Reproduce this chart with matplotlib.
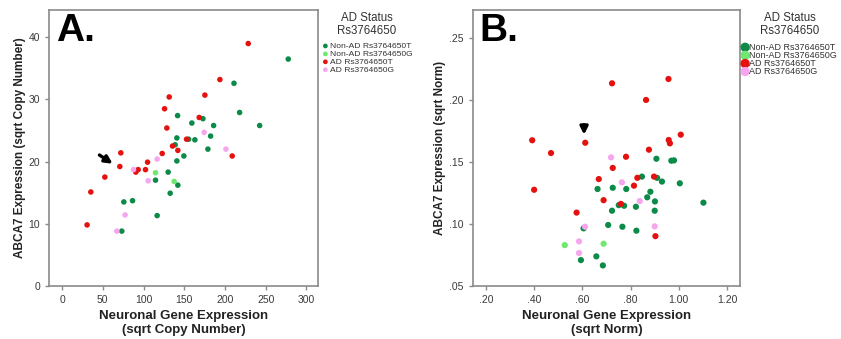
import matplotlib.pyplot as plt
from matplotlib.ticker import FuncFormatter

# groups / colours
groups = ['Non-AD Rs3764650T', 'Non-AD Rs3764650G', 'AD Rs3764650T', 'AD Rs3764650G']
colors = ['#0b8a48', '#6ee86e', '#e4110f', '#f6a6ef']

# panel A : sqrt copy number
a_x_nonad_t = [277.6, 211, 217.9, 141.8, 159.3, 172.9, 186, 242.5, 140.9, 155.3, 163, 182.3,
               138.8, 179, 149.5, 140.9, 130.2, 114.7, 142.1, 132.7, 86.5, 75.8, 116.7, 73.3]
a_y_nonad_t = [36.5, 32.6, 27.9, 27.4, 26.2, 26.9, 25.8, 25.8, 23.8, 23.6, 23.5, 24.1,
               22.7, 22.0, 20.9, 20.1, 18.3, 17.0, 16.2, 14.9, 13.7, 13.5, 11.3, 8.8]
a_x_nonad_g = [114.7, 137.6]
a_y_nonad_g = [18.2, 16.8]
a_x_ad_t = [228.5, 193.7, 131.5, 175.3, 125.8, 168.3, 128.6, 152.8, 135.6, 142.1, 122.9,
            208.8, 72.1, 70.9, 104.9, 102.4, 93.4, 90.5, 52.5, 35.3, 30.7]
a_y_ad_t = [39.0, 33.2, 30.4, 30.7, 28.5, 27.1, 25.4, 23.6, 22.5, 21.8, 21.3,
            20.9, 21.4, 19.2, 19.9, 18.7, 18.7, 18.3, 17.5, 15.1, 9.8]
a_x_ad_g = [174.4, 201.1, 116.7, 87.7, 105.7, 77.4, 67.2]
a_y_ad_g = [24.7, 22.0, 20.4, 18.7, 16.9, 11.4, 8.8]

# panel B : sqrt norm
b_x_nonad_t = [0.907, 0.969, 0.980, 0.847, 0.910, 0.930, 1.004, 0.663, 0.726, 0.782, 0.882,
               0.869, 0.901, 1.102, 0.751, 0.773, 0.822, 0.723, 0.900, 0.707, 0.766, 0.824,
               0.605, 0.658, 0.594, 0.685]
b_y_nonad_t = [0.1524, 0.1508, 0.1511, 0.138, 0.137, 0.134, 0.1326, 0.128, 0.129, 0.128, 0.1258,
               0.1213, 0.118, 0.117, 0.115, 0.1145, 0.1137, 0.1105, 0.1105, 0.099, 0.0976, 0.0944,
               0.0963, 0.0737, 0.0707, 0.0664]
b_x_nonad_g = [0.527, 0.688]
b_y_nonad_g = [0.0828, 0.0839]
b_x_ad_t = [0.392, 0.470, 0.400, 0.612, 0.723, 0.957, 0.864, 0.958, 0.963, 1.008, 0.876,
            0.781, 0.726, 0.668, 0.828, 0.897, 0.814, 0.688, 0.760, 0.576, 0.903]
b_y_ad_t = [0.1673, 0.157, 0.1274, 0.1653, 0.2132, 0.2167, 0.1998, 0.1675, 0.1648, 0.1718, 0.1597,
            0.154, 0.145, 0.136, 0.137, 0.138, 0.1307, 0.119, 0.116, 0.109, 0.090]
b_x_ad_g = [0.719, 0.764, 0.838, 0.611, 0.900, 0.586, 0.586]
b_y_ad_g = [0.1535, 0.1334, 0.1183, 0.0976, 0.0979, 0.0858, 0.0764]

a_xticks = [0, 50, 100, 150, 200, 250, 300]
a_yticks = [0, 10, 20, 30, 40]
b_xticks = [0.2, 0.4, 0.6, 0.8, 1.0, 1.2]
b_yticks = [0.05, 0.10, 0.15, 0.20, 0.25]

plt.rcParams['font.family'] = ['Liberation Sans', 'DejaVu Sans']

fig = plt.figure(figsize=(8.41, 3.39), dpi=100)
axA = fig.add_axes([0.0583, 0.157, 0.3197, 0.8135])
axB = fig.add_axes([0.562, 0.157, 0.318, 0.8135])


def dec(v, pos):
    s = '%.2f' % v
    return s[1:] if s.startswith('0') else s


def style(ax):
    for sp in ax.spines.values():
        sp.set_color('#8a8a8a')
        sp.set_linewidth(1.2)
    ax.tick_params(colors='#8a8a8a', labelcolor='#3a3a3a', labelsize=7.5, length=3, width=1)


dataA = [(a_x_nonad_t, a_y_nonad_t), (a_x_nonad_g, a_y_nonad_g), (a_x_ad_t, a_y_ad_t), (a_x_ad_g, a_y_ad_g)]
dataB = [(b_x_nonad_t, b_y_nonad_t), (b_x_nonad_g, b_y_nonad_g), (b_x_ad_t, b_y_ad_t), (b_x_ad_g, b_y_ad_g)]

for (x, y), c, g in zip(dataA, colors, groups):
    axA.scatter(x, y, s=16, color=c, edgecolors='none', label=g)
for (x, y), c, g in zip(dataB, colors, groups):
    axB.scatter(x, y, s=20, color=c, edgecolors='none', label=g)

axA.set_xlim(-16, 314)
axA.set_ylim(0, 44.4)
axA.set_xticks(a_xticks)
axA.set_yticks(a_yticks)
axB.set_xlim(0.145, 1.254)
axB.set_ylim(0.05, 0.2723)
axB.set_xticks(b_xticks)
axB.set_yticks(b_yticks)
axB.xaxis.set_major_formatter(FuncFormatter(dec))
axB.yaxis.set_major_formatter(FuncFormatter(dec))

for ax in (axA, axB):
    style(ax)

axA.set_xlabel('Neuronal Gene Expression\n(sqrt Copy Number)', fontsize=9.5, fontweight='bold',
               color='#222222', linespacing=1.15, labelpad=4)
axA.set_ylabel('ABCA7 Expression (sqrt Copy Number)', fontsize=8.5, fontweight='bold',
               color='#222222', labelpad=2)
axB.set_xlabel('Neuronal Gene Expression\n(sqrt Norm)', fontsize=9.5, fontweight='bold',
               color='#222222', linespacing=1.15, labelpad=4)
axB.set_ylabel('ABCA7 Expression (sqrt Norm)', fontsize=8.5, fontweight='bold',
               color='#222222', labelpad=2)

axA.text(0.025, 0.99, 'A.', transform=axA.transAxes, fontsize=28, fontweight='bold',
         va='top', ha='left')
axB.text(0.025, 0.99, 'B.', transform=axB.transAxes, fontsize=28, fontweight='bold',
         va='top', ha='left')

axA.annotate('', xy=(65, 19.4), xytext=(43, 21.3),
             arrowprops=dict(arrowstyle='-|>', color='black', lw=2.4, mutation_scale=11))
axB.annotate('', xy=(0.607, 0.1695), xytext=(0.607, 0.182),
             arrowprops=dict(arrowstyle='-|>', color='black', lw=2.4, mutation_scale=11))

legA = axA.legend(title='AD Status\nRs3764650', loc='upper left', bbox_to_anchor=(0.99, 1.015),
                  frameon=False, fontsize=6.1, title_fontsize=8.3, handletextpad=0.05,
                  labelspacing=0.0, borderaxespad=0.3, handlelength=1.0, markerscale=0.85)
legB = axB.legend(title='AD Status\nRs3764650', loc='upper left', bbox_to_anchor=(0.985, 1.015),
                  frameon=False, fontsize=6.5, title_fontsize=8.3, handletextpad=0.1,
                  labelspacing=-0.1, borderaxespad=0.3, handlelength=0.6, markerscale=1.5)
for leg in (legA, legB):
    leg.get_title().set_multialignment('center')
    leg.get_title().set_color('#333333')
    leg.get_title().set_linespacing(1.1)
    leg._legend_box.sep = 4
    for t in leg.get_texts():
        t.set_color('#333333')

fig.savefig('out.png', dpi=100)
